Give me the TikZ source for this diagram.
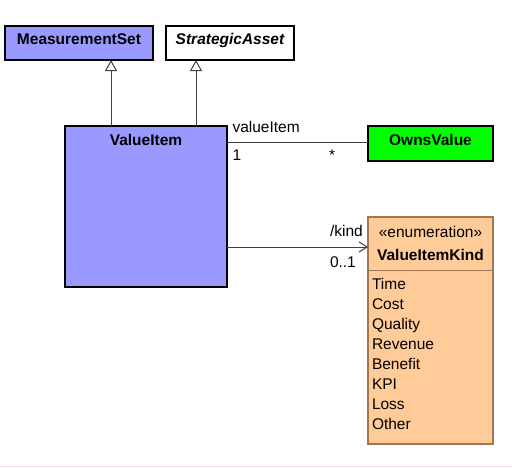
\documentclass[tikz,border=0pt]{standalone}
\usepackage{fontspec}
\setmainfont{Liberation Sans}
\usetikzlibrary{arrows.meta}
\definecolor{classblue}{RGB}{153,153,255}
\definecolor{ownsgreen}{RGB}{0,255,0}
\definecolor{enumorange}{RGB}{255,204,153}
\definecolor{enumborder}{RGB}{160,120,80}
\definecolor{linegray}{RGB}{64,64,64}
\definecolor{pinkline}{RGB}{255,214,222}
\begin{document}
\begin{tikzpicture}[x=1pt,y=-1pt,
  box/.style={draw=black, line width=1.2pt, inner sep=0pt, outer sep=0pt, anchor=north west},
  enumbox/.style={draw=enumborder, fill=enumorange, line width=1.2pt, inner sep=0pt, outer sep=0pt, anchor=north west},
  txt/.style={inner sep=0pt, outer sep=0pt, anchor=base, font=\fontsize{15.5}{18}\selectfont},
  ltxt/.style={txt, anchor=base west},
  conn/.style={draw=linegray, line width=1pt},
  gen/.style={conn, -{Triangle[length=11pt, width=12pt, fill=white]}},
  nav/.style={conn, -{Straight Barb[length=8pt, width=10pt]}}]
\useasboundingbox (0,0) rectangle (512,467);
% boxes
\node[box, fill=classblue, minimum width=148pt, minimum height=34pt] (ms) at (5,26) {};
\node[box, fill=white, minimum width=128pt, minimum height=34pt] (sa) at (166,26) {};
\node[box, fill=classblue, minimum width=162pt, minimum height=161pt] (vi) at (65,126) {};
\node[box, fill=ownsgreen, minimum width=125pt, minimum height=35pt] (ov) at (368,126) {};
\node[enumbox, minimum width=125pt, minimum height=227pt] (kind) at (368,217) {};
\coordinate (div) at (368,270);
\draw[draw=enumborder, line width=1pt] (kind.west |- div) -- (kind.east |- div);
% titles
\node[txt, font=\fontsize{15.5}{18}\selectfont\bfseries] (mst) at (79,44.3) {MeasurementSet};
\node[txt, font=\fontsize{15.5}{18}\selectfont\bfseries\itshape] (sat) at (230,44.3) {StrategicAsset};
\node[txt, font=\fontsize{15.5}{18}\selectfont\bfseries] (vit) at (146,145) {ValueItem};
\node[txt, font=\fontsize{15.5}{18}\selectfont\bfseries] (ovt) at (430.5,145) {OwnsValue};
\node[txt] (st) at (430.5,237) {«enumeration»};
\node[txt, font=\fontsize{15.5}{18}\selectfont\bfseries] (kt) at (430.5,260) {ValueItemKind};
% literals
\node[ltxt] (l1) at (372,289) {Time};
\node[ltxt] (l2) at (372,309) {Cost};
\node[ltxt] (l3) at (372,329) {Quality};
\node[ltxt] (l4) at (372,349) {Revenue};
\node[ltxt] (l5) at (372,369) {Benefit};
\node[ltxt] (l6) at (372,389) {KPI};
\node[ltxt] (l7) at (372,409.5) {Loss};
\node[ltxt] (l8) at (372,429.5) {Other};
% generalizations
\coordinate (g1) at (111,0);
\coordinate (g2) at (196,0);
\draw[gen] (vi.north -| g1) -- (ms.south -| g1);
\draw[gen] (vi.north -| g2) -- (sa.south -| g2);
% associations
\coordinate (a1) at (0,142);
\coordinate (a2) at (0,247);
\draw[conn] (vi.east |- a1) -- (ov.west |- a1);
\draw[nav] (vi.east |- a2) -- (kind.west |- a2);
% association labels
\node[ltxt] (r1) at (232.5,132) {valueItem};
\node[ltxt] (m1) at (232.5,160) {1};
\node[ltxt] (m2) at (329,160) {*};
\node[ltxt] (r2) at (330,236.7) {/kind};
\node[ltxt] (m3) at (330,267) {0..1};
% bottom rule
\draw[pinkline, line width=1pt] (0,466) -- (512,466);
\end{tikzpicture}
\end{document}
